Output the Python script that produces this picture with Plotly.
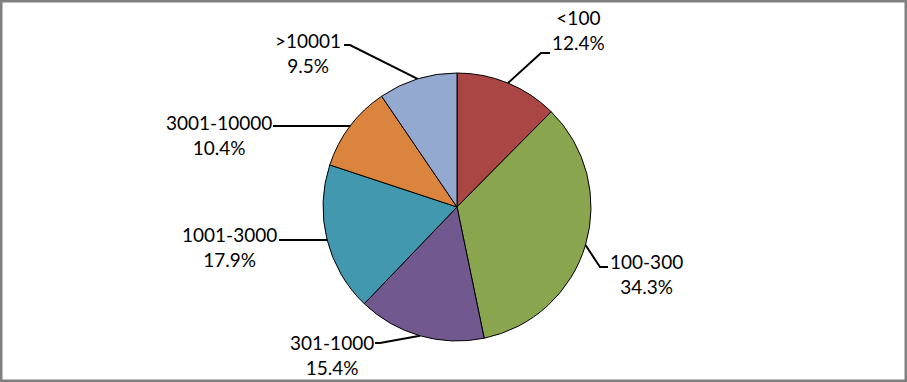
import math
import plotly.graph_objects as go

# ---- data ----
categories = ["<100", "100-300", "301-1000", "1001-3000", "3001-10000", ">10001"]
shares = [12.4, 34.3, 15.4, 17.9, 10.4, 9.5]
colors = ["#AA4643", "#89A54E", "#71588F", "#4198AF", "#DB843D", "#93A9CF"]

# ---- layout (pixels) ----
W, H = 907, 382
CX, CY, R = 457, 207, 134
FONT = dict(family="Lato, Carlito, 'DejaVu Sans', sans-serif", size=19, color="#000000")

# label centre, elbow point, horizontal end point (pixel coords) per category
label_pos = {
    "<100": (578, 30),
    "100-300": (646, 274),
    "301-1000": (332, 355),
    "1001-3000": (230, 247),
    "3001-10000": (219, 135),
    ">10001": (308, 53),
}
elbows = {
    "<100": ((541, 53), 550),
    "100-300": ((600, 267), 608),
    "301-1000": ((380, 343), 375),
    "1001-3000": ((327, 240), 279),
    "3001-10000": ((350, 126), 273),
    ">10001": ((350, 45), 344),
}

def px(x):
    return x / W

def py(y):
    return 1 - y / H

fig = go.Figure(go.Pie(
    labels=categories,
    values=shares,
    sort=False,
    direction="clockwise",
    rotation=0,
    marker=dict(colors=colors, line=dict(color="#000000", width=1)),
    textinfo="none",
    hoverinfo="label+percent",
    domain=dict(x=[px(CX - R), px(CX + R)], y=[py(CY + R), py(CY - R)]),
    showlegend=False,
))

shapes = []
annotations = []
total = sum(shares)
cum = 0.0
for cat, v in zip(categories, shares):
    mid = (cum + v / 2) / total * 2 * math.pi
    cum += v
    sx = CX + R * math.sin(mid)
    sy = CY - R * math.cos(mid)
    (ex, ey), endx = elbows[cat]
    path = f"M {px(sx)},{py(sy)} L {px(ex)},{py(ey)} L {px(endx)},{py(ey)}"
    shapes.append(dict(type="path", xref="paper", yref="paper", path=path,
                       line=dict(color="#000000", width=2)))
    lx, ly = label_pos[cat]
    annotations.append(dict(
        x=px(lx), y=py(ly), xref="paper", yref="paper",
        text=f"{cat}<br>{v:.1f}%", showarrow=False,
        xanchor="center", yanchor="middle", align="center", font=FONT,
    ))

# grey frame
shapes.append(dict(type="rect", xref="paper", yref="paper", x0=0, y0=0, x1=1, y1=1,
                   line=dict(color="#808080", width=5), fillcolor="rgba(0,0,0,0)"))

fig.update_layout(
    width=W, height=H,
    margin=dict(l=0, r=0, t=0, b=0),
    paper_bgcolor="#FFFFFF", plot_bgcolor="#FFFFFF",
    shapes=shapes, annotations=annotations,
)

fig.write_html("out.html", config={"displayModeBar": False},
               post_script="document.body.style.margin='0';")
